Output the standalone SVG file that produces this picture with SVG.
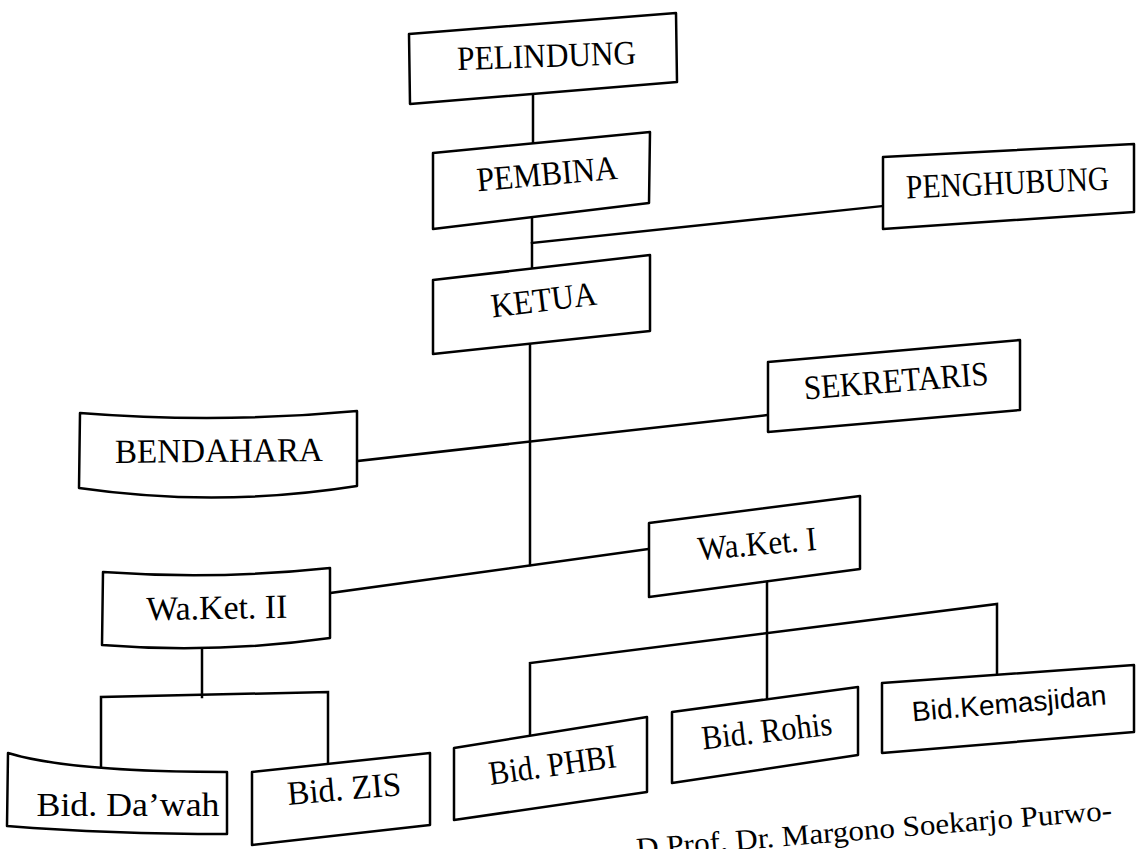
<svg xmlns="http://www.w3.org/2000/svg" width="1136" height="849" viewBox="0 0 1136 849">
<style>
.box{fill:#fff;stroke:#000;stroke-width:2.5;stroke-linejoin:round}
.ln{fill:none;stroke:#000;stroke-width:2.5;stroke-linecap:square;stroke-linejoin:miter}
.t{font-family:"Liberation Serif","Times New Roman",serif;font-size:34px;fill:#000;text-anchor:middle}
.s{font-family:"Liberation Sans",Arial,sans-serif;font-size:28px;fill:#000;text-anchor:middle}
.cap{font-family:"Liberation Serif","Times New Roman",serif;font-size:29px;fill:#000}
</style>
<rect width="1136" height="849" fill="#fff"/>
<g id="connectors">
<line class="ln" x1="533" y1="95" x2="533" y2="143"/>
<line class="ln" x1="532" y1="217" x2="532" y2="269"/>
<line class="ln" x1="532" y1="243" x2="883" y2="206"/>
<line class="ln" x1="530" y1="344" x2="530" y2="565"/>
<line class="ln" x1="357" y1="461" x2="768" y2="415"/>
<line class="ln" x1="330" y1="593" x2="649" y2="549"/>
<line class="ln" x1="202" y1="647" x2="202" y2="697"/>
<polyline class="ln" points="101,768 101,697 328,692 328,766"/>
<line class="ln" x1="767" y1="581" x2="767" y2="699"/>
<polyline class="ln" points="530,736 530,663 997,604 997,675"/>
</g>
<g id="pelindung">
<polygon class="box" points="409,34 676,13 677,82 410,104"/>
<text class="t" x="547" y="67" textLength="179" lengthAdjust="spacingAndGlyphs" transform="rotate(-2 547 67)">PELINDUNG</text>
</g>
<g id="pembina">
<polygon class="box" points="433,153 650,132 649,203 433,229"/>
<text class="t" x="548" y="185" textLength="141" lengthAdjust="spacingAndGlyphs" transform="rotate(-5 548 185)">PEMBINA</text>
</g>
<g id="penghubung">
<polygon class="box" points="883,157 1134,144 1134,212 883,229"/>
<text class="t" x="1008" y="194" font-size="32" textLength="203" lengthAdjust="spacingAndGlyphs" transform="rotate(-2.5 1008 194)">PENGHUBUNG</text>
</g>
<g id="ketua">
<polygon class="box" points="433,280 650,255 650,331 433,354"/>
<text class="t" x="545" y="311" textLength="106" lengthAdjust="spacingAndGlyphs" transform="rotate(-7 545 311)">KETUA</text>
</g>
<g id="sekretaris">
<polygon class="box" points="768,362 1020,340 1020,410 768,432"/>
<text class="t" x="897" y="392" textLength="185" lengthAdjust="spacingAndGlyphs" transform="rotate(-4.6 897 392)">SEKRETARIS</text>
</g>
<g id="bendahara">
<path class="box" d="M80,413 Q218,424 357,411 L357,486 Q218,508 79,488 Z"/>
<text class="t" x="219" y="462" textLength="208" lengthAdjust="spacingAndGlyphs" transform="rotate(-0.5 219 462)">BENDAHARA</text>
</g>
<g id="waket2">
<path class="box" d="M103,572 Q216,580 330,568 L330,638 Q216,654 102,645 Z"/>
<text class="t" x="217" y="619" textLength="141" lengthAdjust="spacingAndGlyphs" transform="rotate(-1 217 619)">Wa.Ket. II</text>
</g>
<g id="waket1">
<polygon class="box" points="649,523 860,496 860,569 649,597"/>
<text class="t" x="758" y="555" textLength="119" lengthAdjust="spacingAndGlyphs" transform="rotate(-5 758 555)">Wa.Ket. I</text>
</g>
<g id="dawah">
<path class="box" d="M8,753 Q70,772 227,772 L227,834 Q110,834 7,826 Z"/>
<text class="t" x="128" y="816" textLength="183" lengthAdjust="spacingAndGlyphs">Bid. Da’wah</text>
</g>
<g id="zis">
<polygon class="box" points="252,772 430,753 430,825 252,845"/>
<text class="t" x="345" y="800" textLength="114" lengthAdjust="spacingAndGlyphs" transform="rotate(-5 345 800)">Bid. ZIS</text>
</g>
<g id="phbi">
<polygon class="box" points="454,748 647,717 647,792 454,820"/>
<text class="t" x="554" y="776" textLength="128" lengthAdjust="spacingAndGlyphs" transform="rotate(-8 554 776)">Bid. PHBI</text>
</g>
<g id="rohis">
<polygon class="box" points="672,712 858,687 858,755 672,783"/>
<text class="t" x="768" y="742" textLength="131" lengthAdjust="spacingAndGlyphs" transform="rotate(-6.5 768 742)">Bid. Rohis</text>
</g>
<g id="kemasjidan">
<polygon class="box" points="882,683 1134,665 1134,732 882,753"/>
<text class="s" x="1010" y="713" textLength="195" lengthAdjust="spacingAndGlyphs" transform="rotate(-5 1010 713)">Bid.Kemasjidan</text>
</g>
<text class="cap" x="637" y="858" textLength="477" lengthAdjust="spacingAndGlyphs" transform="rotate(-4.6 637 858)">D Prof. Dr. Margono Soekarjo Purwo-</text>
</svg>
